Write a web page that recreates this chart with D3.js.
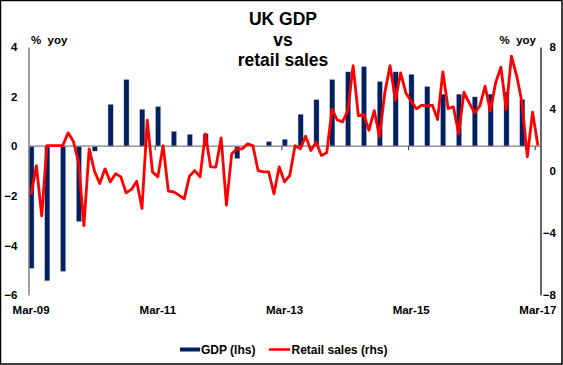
<!DOCTYPE html>
<html>
<head>
<meta charset="utf-8">
<script src="https://cdn.jsdelivr.net/npm/d3@7"></script>
<style>
  html, body { margin: 0; padding: 0; background: #fff; }
  svg { display: block; font-family: "Liberation Sans", Arial, sans-serif; font-weight: bold; }
</style>
</head>
<body>
<svg id="chart" width="563" height="365"></svg>
<script>
// ---- Data ----
// Months indexed from Mar-09 (0) to Mar-17 (96)
// GDP % yoy, quarterly (Mar-09 ... Dec-16)
const gdpQuarters = ["Mar-09","Jun-09","Sep-09","Dec-09","Mar-10","Jun-10","Sep-10","Dec-10",
  "Mar-11","Jun-11","Sep-11","Dec-11","Mar-12","Jun-12","Sep-12","Dec-12",
  "Mar-13","Jun-13","Sep-13","Dec-13","Mar-14","Jun-14","Sep-14","Dec-14",
  "Mar-15","Jun-15","Sep-15","Dec-15","Mar-16","Jun-16","Sep-16","Dec-16"];
const gdpValues = [-4.93,-5.43,-5.05,-3.04,-0.2,1.69,2.69,1.49,
  1.6,0.6,0.48,0.5,0.02,-0.5,0.02,0.19,
  0.28,1.29,1.88,2.69,3.0,3.21,2.61,3.0,
  2.9,2.41,2.1,2.1,1.99,2.1,2.19,1.88];
// Retail sales % yoy, monthly (Mar-09 ... Mar-17)
const retailValues = [
  -1.52,0.35,-2.9,1.64,1.64,1.64,1.64,2.46,1.92,0.53,
  -3.52,1.43,-0.01,-0.81,0.14,-0.7,-0.18,-0.38,-1.41,-1.19,
  -0.66,-2.42,3.28,-0.07,-0.38,1.64,-1.3,-1.35,-1.56,-1.8,
  -0.33,0.03,-0.38,2.4,0.27,0.25,2.14,-2.2,1.11,1.43,
  1.43,1.75,1.64,0.03,-0.05,-0.05,-1.47,0.27,-0.7,-0.29,
  1.64,1.43,2.25,1.32,1.86,1.0,1.17,3.97,3.3,3.17,
  3.9,6.8,3.56,3.65,2.63,3.9,2.2,5.04,6.8,4.57,
  6.33,5.04,4.5,4.01,4.25,4.18,4.25,3.32,6.4,4.03,
  4.14,2.4,5.08,4.4,3.75,4.18,5.47,3.86,5.69,6.7,
  3.97,7.41,6.12,4.4,0.92,3.79,1.64];
const xTickLabels = ["Mar-09","Mar-11","Mar-13","Mar-15","Mar-17"];
const xTickMonths = [0,24,48,72,96];
const leftTicks = [4,2,0,-2,-4,-6];
const rightTicks = [8,4,0,-4,-8];

// ---- Layout ----
const svg = d3.select("#chart");
const W = 563, H = 365;
const plotLeft = 28.5, plotRight = 540.5, plotTop = 47, plotBottom = 295;

svg.append("rect").attr("x",0.5).attr("y",0.5).attr("width",W-1.5).attr("height",H-1.5)
  .attr("fill","#fff").attr("stroke","#000").attr("stroke-width",1.5);

const nMonths = retailValues.length; // 97
const x = d3.scaleLinear().domain([-0.5, nMonths - 0.5]).range([plotLeft, plotRight]);
const yL = d3.scaleLinear().domain([-6, 4]).range([plotBottom, plotTop]);
const yR = d3.scaleLinear().domain([-8, 8]).range([plotBottom, plotTop]);

// Title
const title = svg.append("text").attr("text-anchor","middle").attr("font-size",17.5).attr("fill","#000");
["UK GDP","vs","retail sales"].forEach((t,i)=>{
  title.append("tspan").attr("x",283).attr("y",25 + i*20.5).text(t);
});

// Axis unit labels
svg.append("text").attr("x",31).attr("y",44).attr("font-size",11.5).text("%\u00a0\u00a0yoy");
svg.append("text").attr("x",536).attr("y",44).attr("font-size",11.5).attr("text-anchor","end").text("%\u00a0\u00a0yoy");

// Bars
const barW = 5.2;
svg.append("g").selectAll("rect").data(gdpValues).join("rect")
  .attr("x",(d,i)=> x(i*3) - barW/2 + 0.3)
  .attr("y",d=> Math.min(yL(d), yL(0)))
  .attr("width",barW)
  .attr("height",d=> Math.abs(yL(d)-yL(0)))
  .attr("fill","#002060")
  .attr("stroke","#c9d3e6").attr("stroke-width",0.4);

// Zero line
svg.append("line").attr("x1",plotLeft).attr("x2",plotRight).attr("y1",yL(0)).attr("y2",yL(0))
  .attr("stroke","#808080").attr("stroke-width",1.2);

// Ticks on zero line (at month boundaries)
svg.append("g").selectAll("line").data(xTickMonths.slice(1)).join("line")
  .attr("x1",d=>x(d-0.5)).attr("x2",d=>x(d-0.5))
  .attr("y1",yL(0)).attr("y2",yL(0)+4)
  .attr("stroke","#333").attr("stroke-width",1);

// Left axis
const leftAxis = d3.axisLeft(yL).tickValues(leftTicks).tickSize(0).tickPadding(11);
const gL = svg.append("g").attr("transform",`translate(${plotLeft},0)`).call(leftAxis);
gL.select(".domain").attr("stroke","#808080").attr("stroke-width",1.5);
gL.selectAll("text").attr("font-size",11.5).attr("font-family","Liberation Sans, Arial, sans-serif").attr("font-weight","bold").attr("fill","#000");

// Right axis
const rightAxis = d3.axisRight(yR).tickValues(rightTicks).tickSize(0).tickPadding(15);
const gR = svg.append("g").attr("transform",`translate(${plotRight},0)`).call(rightAxis);
gR.select(".domain").attr("stroke","#000").attr("stroke-width",1.2);
gR.selectAll("text").attr("font-size",11.5).attr("font-family","Liberation Sans, Arial, sans-serif").attr("font-weight","bold").attr("fill","#000")
  .attr("text-anchor","end").attr("dx","0");
gR.selectAll(".tick text").attr("x",15.5);

// X labels
svg.append("g").selectAll("text").data(xTickLabels).join("text")
  .attr("x",(d,i)=> x(xTickMonths[i]))
  .attr("y",314)
  .attr("text-anchor","middle").attr("font-size",11.5).text(d=>d);

// Retail line
const line = d3.line().x((d,i)=>x(i)).y(d=>yR(d));
svg.append("path").datum(retailValues).attr("d",line)
  .attr("fill","none").attr("stroke","#ff0000").attr("stroke-width",2.8).attr("stroke-linejoin","round");

// Legend
const lg = svg.append("g");
lg.append("rect").attr("x",180).attr("y",347.5).attr("width",20).attr("height",4).attr("fill","#002060");
lg.append("text").attr("x",201).attr("y",353.5).attr("font-size",12).text("GDP (lhs)");
lg.append("line").attr("x1",269).attr("x2",290).attr("y1",349.5).attr("y2",349.5).attr("stroke","#ff0000").attr("stroke-width",2.6);
lg.append("text").attr("x",291.5).attr("y",353.5).attr("font-size",12).text("Retail sales (rhs)");
</script>
</body>
</html>
